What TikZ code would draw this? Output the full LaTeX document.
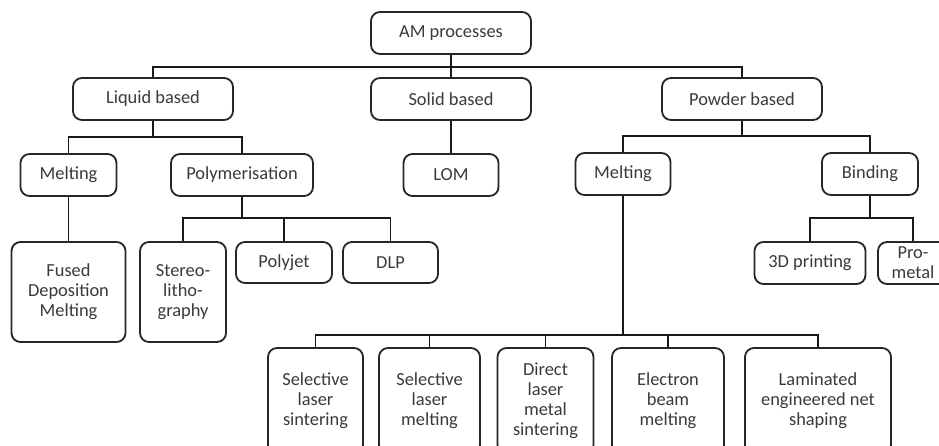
\documentclass[tikz,border=0pt]{standalone}
\usepackage{fontspec}
\setmainfont{Carlito}
\definecolor{txt}{HTML}{3A3A3A}
\begin{document}
\begin{tikzpicture}[x=1pt,y=-1pt,
  box/.style={draw=black!85, line width=1.8pt, rounded corners=9pt, inner sep=0pt,
    align=center, text=txt, font=\fontsize{18.4}{20}\selectfont},
  conn/.style={draw=black!90, line width=1.8pt}]
\useasboundingbox (0,0) rectangle (939,445);
\clip (0,0) rectangle (939,445);
\fill[white] (0,0) rectangle (939,445);
% level 0
\node[box, minimum width=160pt, minimum height=42pt] (am) at (451,33) {AM processes};
% level 1
\node[box, minimum width=160pt, minimum height=42pt] (liquid) at (153,99) {Liquid based};
\node[box, minimum width=160pt, minimum height=42pt] (solid) at (451,99) {Solid based};
\node[box, minimum width=160pt, minimum height=42pt] (powder) at (742,99) {Powder based};
% level 2
\node[box, minimum width=96pt, minimum height=42pt] (meltL) at (68.5,175) {Melting};
\node[box, minimum width=142pt, minimum height=42pt] (poly) at (242,175) {Polymerisation};
\node[box, minimum width=95pt, minimum height=42pt] (lom) at (451,175) {LOM};
\node[box, minimum width=95pt, minimum height=42pt] (meltR) at (623,174) {Melting};
\node[box, minimum width=96pt, minimum height=42pt] (binding) at (870,174) {Binding};
% level 3
\node[box, minimum width=114pt, minimum height=100pt] (fused) at (68.5,292) {Fused\\Deposition\\Melting};
\node[box, minimum width=86pt, minimum height=100pt] (stereo) at (183,292) {Stereo-\\litho-\\graphy};
\node[box, minimum width=96pt, minimum height=41pt] (polyjet) at (284,262.5) {Polyjet};
\node[box, minimum width=95pt, minimum height=41pt] (dlp) at (390.5,262.5) {DLP};
\node[box, minimum width=111pt, minimum height=42pt] (print3d) at (810,263) {3D printing};
\node[box, minimum width=70pt, minimum height=42pt] (prometal) at (913,263) {Pro-\\metal};
% level 4
\node[box, minimum width=95pt, minimum height=106pt] (sls) at (315.5,401) {Selective\\laser\\sintering};
\node[box, minimum width=101pt, minimum height=106pt] (slm) at (429.5,401) {Selective\\laser\\melting};
\node[box, minimum width=96pt, minimum height=106pt] (dlms) at (545.5,401) {Direct\\laser\\metal\\sintering};
\node[box, minimum width=112pt, minimum height=106pt] (ebm) at (668,401) {Electron\\beam\\melting};
\node[box, minimum width=146pt, minimum height=106pt] (lens) at (818,401) {Laminated\\engineered net\\shaping};
% bus lines
\coordinate (b0) at (0,67);
\coordinate (b1) at (0,137);
\coordinate (b2) at (0,136);
\coordinate (b3) at (0,218);
\coordinate (b4) at (0,335);
\draw[conn] (am.south) -- (solid.north);
\draw[conn] (liquid.north) -- (liquid.north |- b0) -- (powder.north |- b0) -- (powder.north);
\draw[conn] (liquid.south) -- (liquid.south |- b1);
\draw[conn] (meltL.north) -- (meltL.north |- b1) -- (poly.north |- b1) -- (poly.north);
\draw[conn] (solid.south) -- (lom.north);
\draw[conn] (powder.south) -- (powder.south |- b2);
\draw[conn] (meltR.north) -- (meltR.north |- b2) -- (binding.north |- b2) -- (binding.north);
\draw[conn] (meltL.south) -- (fused.north);
\draw[conn] (poly.south) -- (poly.south |- b3);
\draw[conn] (stereo.north) -- (stereo.north |- b3) -- (dlp.north |- b3) -- (dlp.north);
\draw[conn] (polyjet.north) -- (polyjet.north |- b3);
\draw[conn] (binding.south) -- (binding.south |- b3);
\draw[conn] (print3d.north) -- (print3d.north |- b3) -- (prometal.north |- b3) -- (prometal.north);
\draw[conn] (meltR.south) -- (meltR.south |- b4);
\draw[conn] (sls.north) -- (sls.north |- b4) -- (lens.north |- b4) -- (lens.north);
\draw[conn] (slm.north) -- (slm.north |- b4);
\draw[conn] (dlms.north) -- (dlms.north |- b4);
\draw[conn] (ebm.north) -- (ebm.north |- b4);
\end{tikzpicture}
\end{document}
